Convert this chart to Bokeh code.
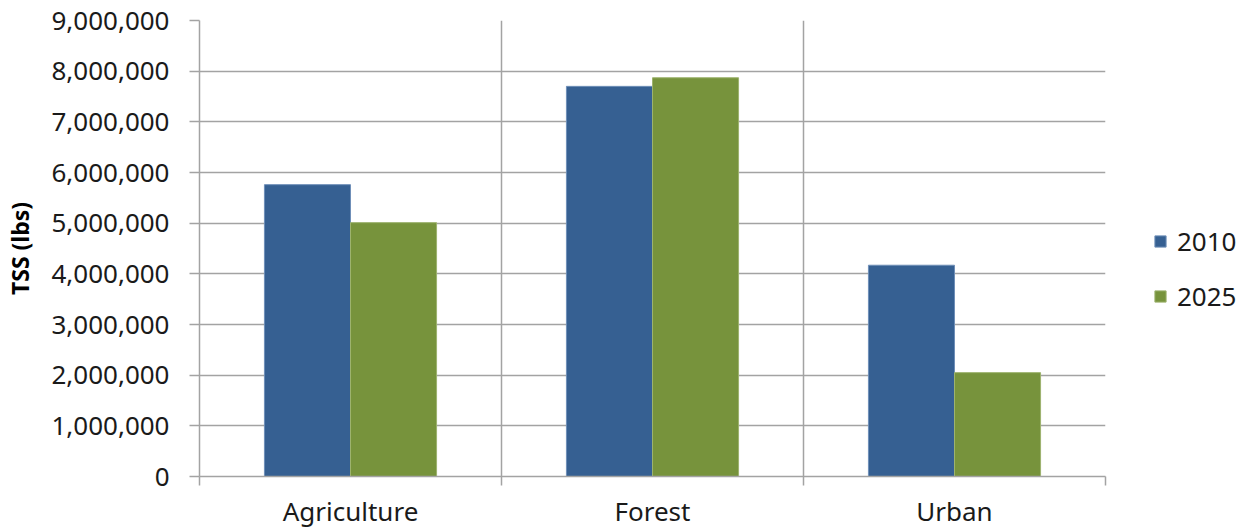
from bokeh.plotting import figure
from bokeh.models import FixedTicker, NumeralTickFormatter, Legend, LegendItem, ColumnDataSource, Range1d
from bokeh.embed import file_html
from bokeh.resources import INLINE

categories = ["Agriculture", "Forest", "Urban"]
series_names = ["2010", "2025"]
values_2010 = [5760000, 7700000, 4170000]
values_2025 = [5010000, 7870000, 2050000]
y_ticks = [0, 1000000, 2000000, 3000000, 4000000, 5000000, 6000000, 7000000, 8000000, 9000000]

colors = ["#366092", "#77933C"]
edge_colors = ["#6f8fb8", "#9db36e"]
FONT = "Noto Sans"
GRID = "#a3a3a3"

idx = list(range(len(categories)))
bar_w = 0.285
centers = [i + 0.5 for i in idx]

p = figure(output_backend="svg", toolbar_location=None,
           width=1240, height=529,
           frame_width=906, frame_height=456,
           min_border_left=199, min_border_right=135, min_border_top=20, min_border_bottom=53,
           x_range=Range1d(0, 3), y_range=Range1d(0, 9000000))

src1 = ColumnDataSource(dict(x=[c - bar_w / 2 for c in centers], top=values_2010))
src2 = ColumnDataSource(dict(x=[c + bar_w / 2 for c in centers], top=values_2025))
r1 = p.vbar(x="x", top="top", width=bar_w, source=src1, fill_color=colors[0], line_color=edge_colors[0], line_width=1)
r2 = p.vbar(x="x", top="top", width=bar_w, source=src2, fill_color=colors[1], line_color=edge_colors[1], line_width=1)

p.outline_line_color = None
p.background_fill_color = "white"
p.border_fill_color = "white"

# x axis
p.xaxis.ticker = FixedTicker(ticks=centers, minor_ticks=[0, 1, 2, 3])
p.xaxis.major_label_overrides = {c: name for c, name in zip(centers, categories)}
p.xaxis.major_tick_line_color = None
p.xaxis.major_tick_out = 0
p.xaxis.major_tick_in = 0
p.xaxis.minor_tick_line_color = GRID
p.xaxis.minor_tick_line_width = 1.5
p.xaxis.minor_tick_out = 9
p.xaxis.minor_tick_in = 0
p.xaxis.axis_line_color = GRID
p.xaxis.axis_line_width = 1.5
p.xaxis.major_label_text_font = FONT
p.xaxis.major_label_text_font_size = "26px"
p.xaxis.major_label_text_color = "#1a1a1a"
p.xaxis.major_label_standoff = 7

# y axis
p.yaxis.ticker = FixedTicker(ticks=y_ticks)
p.yaxis.formatter = NumeralTickFormatter(format="0,0")
p.yaxis.minor_tick_line_color = None
p.yaxis.major_tick_line_color = GRID
p.yaxis.major_tick_line_width = 1.5
p.yaxis.major_tick_out = 10
p.yaxis.major_tick_in = 0
p.yaxis.axis_line_color = GRID
p.yaxis.axis_line_width = 1.5
p.yaxis.major_label_text_font = FONT
p.yaxis.major_label_text_font_size = "26px"
p.yaxis.major_label_text_color = "#1a1a1a"
p.yaxis.major_label_standoff = 20
p.yaxis.axis_label = "TSS (lbs)"
p.yaxis.axis_label_text_font = FONT
p.yaxis.axis_label_text_font_style = "bold"
p.yaxis.axis_label_text_font_size = "23px"
p.yaxis.axis_label_text_color = "#000000"
p.yaxis.axis_label_standoff = 12

# grids
p.xgrid.ticker = FixedTicker(ticks=[0, 1, 2, 3])
p.xgrid.grid_line_color = GRID
p.xgrid.grid_line_width = 1.5
p.ygrid.grid_line_color = GRID
p.ygrid.grid_line_width = 1.5

legend = Legend(items=[LegendItem(label=series_names[0], renderers=[r1]),
                       LegendItem(label=series_names[1], renderers=[r2])],
                location=(48, 162))
legend.border_line_color = None
legend.background_fill_alpha = 0
legend.padding = 0
legend.margin = 0
legend.glyph_width = 14
legend.glyph_height = 14
legend.label_standoff = 10
legend.label_height = 30
legend.spacing = 19
legend.label_text_font = FONT
legend.label_text_font_size = "26px"
legend.label_text_color = "#1a1a1a"
p.add_layout(legend, "right")

open("out.html", "w").write(file_html(p, INLINE))
